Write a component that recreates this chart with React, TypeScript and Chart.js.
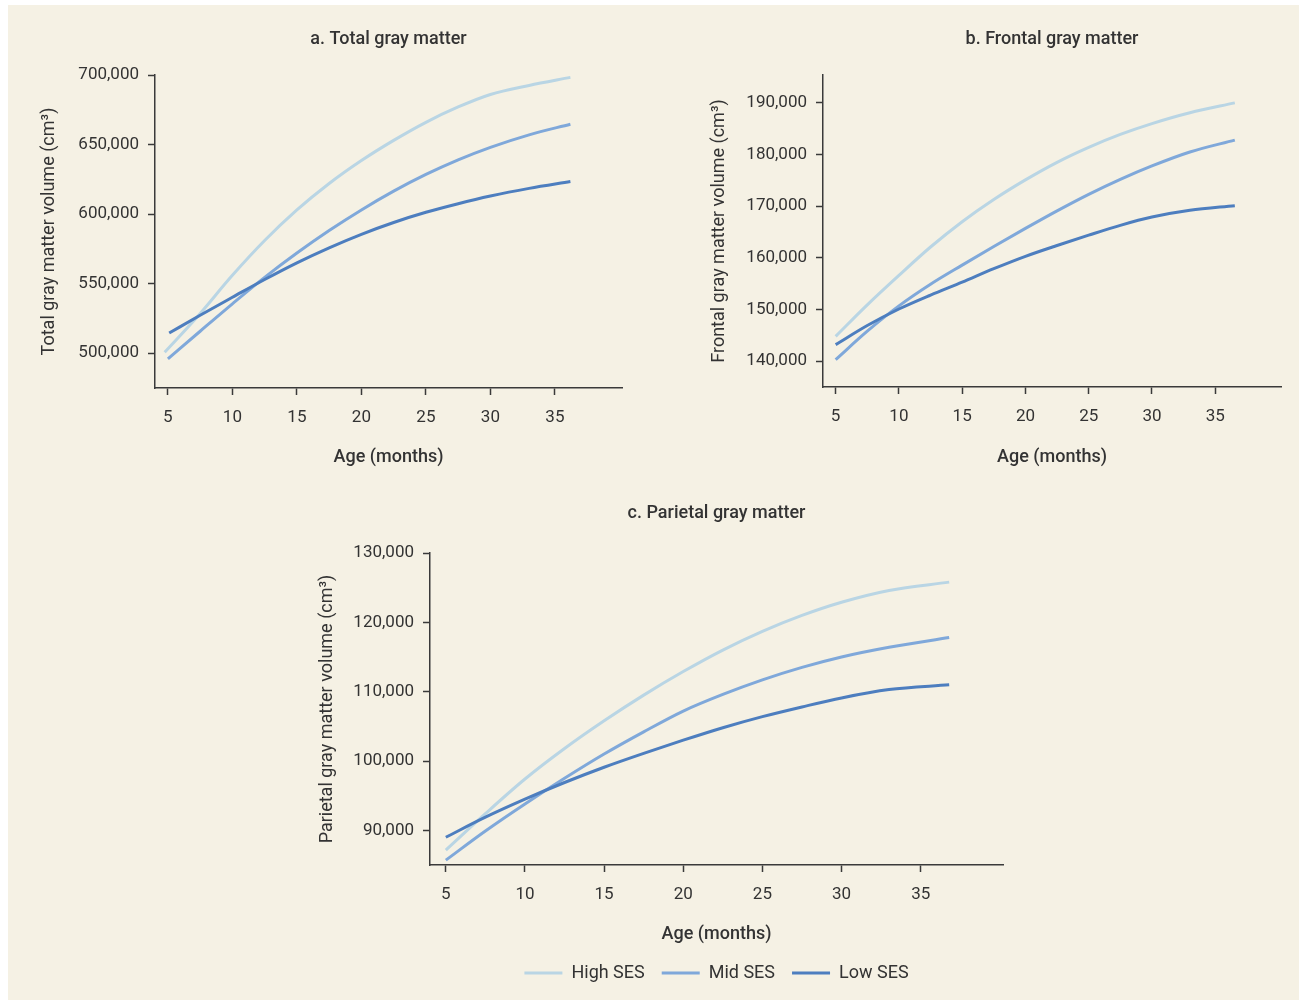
import React, { useEffect, useRef } from "react";
import { Chart, registerables } from "chart.js";

Chart.register(...registerables);

// ---------- data ----------
const SERIES_LABELS = ["High SES", "Mid SES", "Low SES"];
const AGE_TICKS = [5, 10, 15, 20, 25, 30, 35];

// a. Total gray matter
const totalAgesHigh = [4.75, 7.3, 10, 12.5, 15, 17.5, 20, 22.5, 25, 27.5, 30, 33, 36.2];
const totalHigh = [500700, 526400, 556000, 581000, 603000, 622000, 638500, 653000, 666000, 677000, 686000, 692500, 698300];
const totalAgesMid = [5, 7.5, 10, 12.5, 15, 17.5, 20, 22.5, 25, 27.5, 30, 33, 36.2];
const totalMid = [495900, 515800, 535500, 554500, 572000, 588200, 603000, 616500, 628500, 639000, 648000, 657000, 664600];
const totalAgesLow = [5.1, 7.5, 10, 12.5, 15, 17.5, 20, 22.5, 25, 27.5, 30, 33, 36.2];
const totalLow = [514500, 527300, 540200, 553000, 565000, 575800, 585500, 594000, 601300, 607500, 613000, 618500, 623400];
const totalYTicks = [500000, 550000, 600000, 650000, 700000];

// b. Frontal gray matter
const frontalAges = [5, 7.5, 10, 12.5, 15, 17.5, 20, 22.5, 25, 27.5, 30, 33, 36.55];
const frontalHigh = [144800, 150900, 156600, 162100, 167000, 171300, 175100, 178500, 181400, 183900, 186000, 188100, 190000];
const frontalMid = [140300, 145800, 150700, 154900, 158600, 162200, 165700, 169100, 172300, 175200, 177800, 180500, 182800];
const frontalLow = [143200, 146900, 150100, 152800, 155300, 157900, 160300, 162400, 164400, 166300, 167900, 169200, 170100];
const frontalYTicks = [140000, 150000, 160000, 170000, 180000, 190000];

// c. Parietal gray matter
const parietalAges = [5, 7.5, 10, 12.5, 15, 17.5, 20, 22.5, 25, 27.5, 30, 33, 36.8];
const parietalHigh = [87150, 92400, 97400, 101800, 105800, 109500, 112900, 116000, 118700, 121000, 122900, 124600, 125800];
const parietalMid = [85700, 89900, 93800, 97500, 101000, 104200, 107200, 109600, 111700, 113500, 115000, 116400, 117800];
const parietalLow = [89000, 91900, 94500, 96900, 99100, 101100, 103000, 104800, 106400, 107800, 109100, 110300, 111000];
const parietalYTicks = [90000, 100000, 110000, 120000, 130000];

// ---------- styles ----------
const BG = "#f5f1e4";
const TEXT = "#333333";
const AXIS = "#3a3a3a";
const COLORS = ["#b9d5e4", "#7fa8da", "#4d7ebf"];
const FONT = "Roboto, 'Liberation Sans', sans-serif";

type Panel = {
  title: string;
  yTitle: string;
  yMin: number;
  yMax: number;
  yTicks: number[];
  series: { ages: number[]; values: number[] }[];
  left: number;
  top: number;
  width: number;
  height: number;
  yWidth: number;
  xHeight: number;
  titlePadTop: number;
  titlePadBottom: number;
  yTitlePad: number;
  legend: boolean;
};

const PANELS: Panel[] = [
  {
    title: "a. Total gray matter",
    yTitle: "Total gray matter volume (cm³)",
    yMin: 475000,
    yMax: 700000,
    yTicks: totalYTicks,
    series: [
      { ages: totalAgesHigh, values: totalHigh },
      { ages: totalAgesMid, values: totalMid },
      { ages: totalAgesLow, values: totalLow },
    ],
    left: 20, top: 15, width: 604, height: 455,
    yWidth: 135, xHeight: 82, titlePadTop: 13.2, titlePadBottom: 25.2, yTitlePad: 18.2, legend: false,
  },
  {
    title: "b. Frontal gray matter",
    yTitle: "Frontal gray matter volume (cm³)",
    yMin: 135000,
    yMax: 195400,
    yTicks: frontalYTicks,
    series: [
      { ages: frontalAges, values: frontalHigh },
      { ages: frontalAges, values: frontalMid },
      { ages: frontalAges, values: frontalLow },
    ],
    left: 688, top: 15, width: 595, height: 455,
    yWidth: 135, xHeight: 83, titlePadTop: 13.2, titlePadBottom: 25.2, yTitlePad: 20.2, legend: false,
  },
  {
    title: "c. Parietal gray matter",
    yTitle: "Parietal gray matter volume (cm³)",
    yMin: 85000,
    yMax: 130000,
    yTicks: parietalYTicks,
    series: [
      { ages: parietalAges, values: parietalHigh },
      { ages: parietalAges, values: parietalMid },
      { ages: parietalAges, values: parietalLow },
    ],
    left: 300, top: 480, width: 705, height: 512,
    yWidth: 130, xHeight: 82, titlePadTop: 22.2, titlePadBottom: 29.2, yTitlePad: 16.2, legend: true,
  },
];

function buildConfig(p: Panel): any {
  const tickFont = { family: FONT, size: 17, weight: "400" as any, lineHeight: 1.2 };
  const gridOpts = {
    display: true,
    drawOnChartArea: false,
    drawTicks: true,
    tickLength: 7,
    tickColor: AXIS,
    tickWidth: 1.5,
  };
  return {
    type: "line",
    data: {
      datasets: p.series.map((s, i) => ({
        label: SERIES_LABELS[i],
        data: s.ages.map((a, j) => ({ x: a, y: s.values[j] })),
        borderColor: COLORS[i],
        backgroundColor: COLORS[i],
        borderWidth: 3,
        pointRadius: 0,
        fill: false,
        cubicInterpolationMode: "monotone",
        order: 2 - i,
      })),
    },
    options: {
      animation: false,
      responsive: false,
      maintainAspectRatio: false,
      layout: { padding: { left: 0, right: 2, top: 0, bottom: 0 } },
      plugins: {
        title: {
          display: true,
          text: p.title,
          fullSize: false,
          color: TEXT,
          font: { family: FONT, size: 18, weight: "500", lineHeight: 1.2 },
          padding: { top: p.titlePadTop, bottom: p.titlePadBottom },
        },
        legend: p.legend
          ? {
              display: true,
              position: "bottom",
              fullSize: false,
              labels: {
                boxWidth: 38,
                boxHeight: 3,
                padding: 17,
                color: TEXT,
                font: { family: FONT, size: 18, weight: "400" },
                generateLabels: (chart: any) =>
                  chart.data.datasets.map((ds: any, i: number) => ({
                    text: ds.label,
                    fillStyle: ds.borderColor,
                    strokeStyle: ds.borderColor,
                    lineWidth: 0,
                    hidden: false,
                    datasetIndex: i,
                    fontColor: TEXT,
                  })),
              },
            }
          : { display: false },
        tooltip: { enabled: false },
      },
      scales: {
        x: {
          type: "linear",
          min: 4,
          max: 40.2,
          border: { display: true, color: AXIS, width: 1.5 },
          grid: gridOpts,
          ticks: {
            padding: 13,
            color: TEXT,
            font: tickFont,
            autoSkip: false,
            maxRotation: 0,
            callback: (v: number) => String(v),
          },
          afterBuildTicks: (s: any) => {
            s.ticks = AGE_TICKS.map((v) => ({ value: v }));
          },
          afterFit: (s: any) => {
            s.height = p.xHeight;
          },
          title: {
            display: true,
            text: "Age (months)",
            color: TEXT,
            font: { family: FONT, size: 18, weight: "500", lineHeight: 1.2 },
            padding: { top: 0, bottom: 2.2 },
          },
        },
        y: {
          type: "linear",
          min: p.yMin,
          max: p.yMax,
          border: { display: true, color: AXIS, width: 1.5 },
          grid: gridOpts,
          ticks: {
            padding: 9,
            color: TEXT,
            font: tickFont,
            autoSkip: false,
            callback: (v: number) => v.toLocaleString("en-US"),
          },
          afterBuildTicks: (s: any) => {
            s.ticks = p.yTicks.map((v) => ({ value: v }));
          },
          afterFit: (s: any) => {
            s.width = p.yWidth;
          },
          title: {
            display: true,
            text: p.yTitle,
            color: TEXT,
            font: { family: FONT, size: 18, weight: "400", lineHeight: 1.2 },
            padding: { top: p.yTitlePad, bottom: 0 },
          },
        },
      },
    },
  };
}

export default function App() {
  const refA = useRef<HTMLCanvasElement>(null);
  const refB = useRef<HTMLCanvasElement>(null);
  const refC = useRef<HTMLCanvasElement>(null);
  const refs = [refA, refB, refC];

  useEffect(() => {
    Chart.defaults.font.family = FONT;
    const charts = PANELS.map((p, i) => new Chart(refs[i].current as HTMLCanvasElement, buildConfig(p)));
    return () => charts.forEach((c) => c.destroy());
  }, []);

  return (
    <div
      style={{
        position: "absolute",
        left: 8,
        top: 5,
        width: 1291,
        height: 995,
        background: BG,
        overflow: "hidden",
      }}
    >
      {PANELS.map((p, i) => (
        <canvas
          key={i}
          ref={refs[i]}
          width={p.width}
          height={p.height}
          style={{
            position: "absolute",
            left: p.left - 8,
            top: p.top - 5,
            width: p.width,
            height: p.height,
          }}
        />
      ))}
    </div>
  );
}
